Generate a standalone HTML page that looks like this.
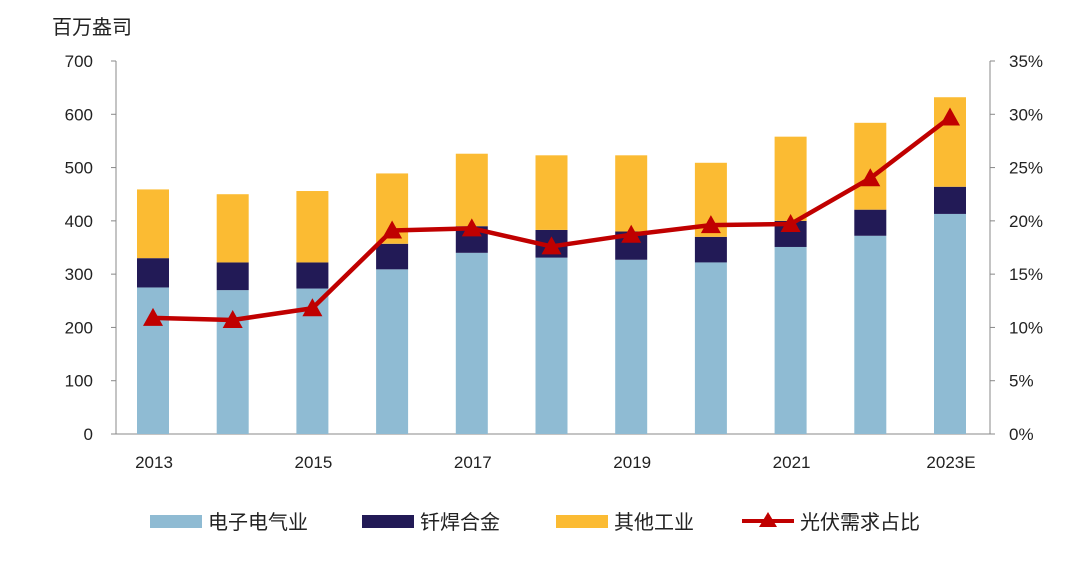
<!DOCTYPE html>
<html><head><meta charset="utf-8">
<style>
body{margin:0;background:#fff;font-family:"Liberation Sans","Noto Sans CJK SC",sans-serif;}
svg text{font-family:"Liberation Sans","Noto Sans CJK SC",sans-serif;}
</style></head>
<body>
<svg id="chart" width="1080" height="572" xmlns="http://www.w3.org/2000/svg">
<text x="52" y="34" font-size="20" fill="#222">百万盎司</text>
<g id="axes"></g>
<g id="bars"></g>
<g id="line"></g>
<g id="legend"></g>
</svg>
<script>
const categories=["2013","2014","2015","2016","2017","2018","2019","2020","2021","2022","2023E"];
const electronics=[275,270,273,309,340,331,327,322,351,372,413];
const solder=[55,52,49,48,50,52,53,48,49,49,51];
const other=[129,128,134,132,136,140,143,139,158,163,168];
const pvShare=[10.9,10.7,11.8,19.1,19.3,17.6,18.7,19.6,19.7,24.0,29.7];
const leftTicks=[0,100,200,300,400,500,600,700];
const rightTicks=[0,5,10,15,20,25,30,35];
const xLabels=["2013","","2015","","2017","","2019","","2021","","2023E"];

const NS="http://www.w3.org/2000/svg";
const x0=116,x1=990,yB=434,yT=61;
const yL=v=>yB-(v/700)*(yB-yT);
const yR=v=>yB-(v/35)*(yB-yT);
const step=79.7;
const xC=i=>153+step*i;
function mk(tag,attrs,parent,text){const e=document.createElementNS(NS,tag);for(const k in attrs)e.setAttribute(k,attrs[k]);if(text!==undefined)e.textContent=text;parent.appendChild(e);return e;}
const axes=document.getElementById('axes');
let e=mk('line',{x1:x0,y1:yT,x2:x0,y2:yB,stroke:'#888'},axes);


e=mk('line',{x1:x1,y1:yT,x2:x1,y2:yB,stroke:'#888'},axes);


e=mk('line',{x1:x0,y1:yB,x2:x1,y2:yB,stroke:'#888'},axes);


leftTicks.forEach(t=>{
  mk('line',{x1:x0-5,y1:yL(t),x2:x0,y2:yL(t),stroke:'#888'},axes);
  e=mk('text',{x:x0-23,y:yL(t)+6,'font-size':17,'text-anchor':'end',fill:'#222'},axes,String(t));
  
  
});
rightTicks.forEach(t=>{
  mk('line',{x1:x1,y1:yR(t),x2:x1+5,y2:yR(t),stroke:'#888'},axes);
  e=mk('text',{x:x1+19,y:yR(t)+6,'font-size':17,fill:'#222'},axes,t+'%');
  
  
});
xLabels.forEach((l,i)=>{
  if(!l)return;
  e=mk('text',{x:xC(i)+1,y:468,'font-size':17,'text-anchor':'middle',fill:'#222'},axes,l);
  
  
});
const bars=document.getElementById('bars');
const bw=32;
categories.forEach((c,i)=>{
  const a=electronics[i],b=solder[i],o=other[i];
  const segs=[[0,a,'#8fbbd3','bar-electronics'],[a,a+b,'#221a56','bar-solder'],[a+b,a+b+o,'#fbbb33','bar-other']];
  segs.forEach(s=>{
    const r=mk('rect',{x:xC(i)-bw/2,y:yL(s[1]),width:bw,height:yL(s[0])-yL(s[1]),fill:s[2]},bars);
    
    
  });
});
const lg=document.getElementById('line');
const pts=pvShare.map((v,i)=>xC(i)+','+yR(v)).join(' ');
e=mk('polyline',{points:pts,fill:'none',stroke:'#c00000','stroke-width':4.5,'stroke-linejoin':'round'},lg);


pvShare.forEach((v,i)=>{
  const x=xC(i),y=yR(v);
  e=mk('polygon',{points:`${x},${y-10} ${x-10},${y+8} ${x+10},${y+8}`,fill:'#c00000'},lg);
  
  
});
const leg=document.getElementById('legend');
const items=[['电子电气业','#8fbbd3',150],['钎焊合金','#221a56',362],['其他工业','#fbbb33',556]];
items.forEach(it=>{
  const g=mk('g',{},leg);
  
  
  mk('rect',{x:it[2],y:515,width:52,height:13,fill:it[1]},g);
  mk('text',{x:it[2]+58,y:529,'font-size':20,fill:'#222'},g,it[0]);
});
const g=mk('g',{},leg);


mk('line',{x1:742,y1:521,x2:794,y2:521,stroke:'#c00000','stroke-width':4},g);
mk('polygon',{points:'768,512 759,527 777,527',fill:'#c00000'},g);
mk('text',{x:800,y:529,'font-size':20,fill:'#222'},g,'光伏需求占比');
</script>
</body></html>
